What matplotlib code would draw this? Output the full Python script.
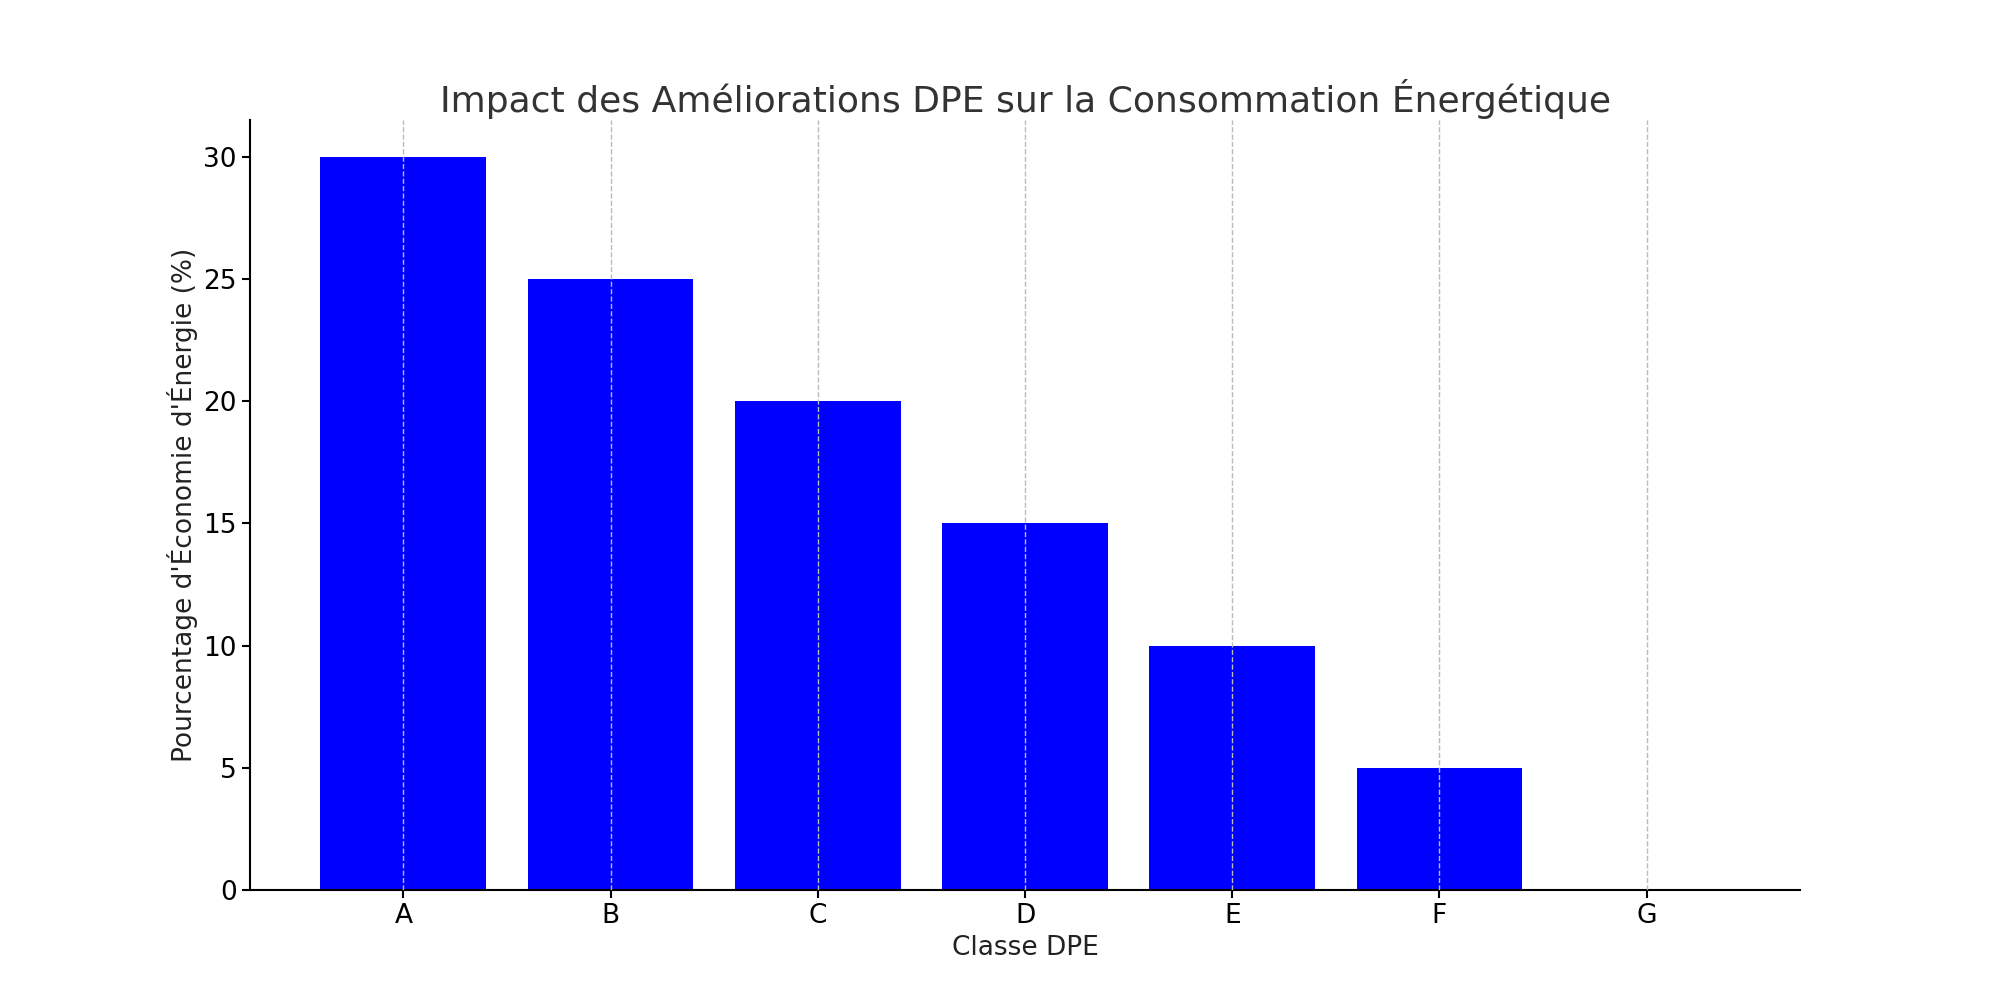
import matplotlib
matplotlib.use('Agg')
import matplotlib.pyplot as plt

classes = ['A', 'B', 'C', 'D', 'E', 'F', 'G']
savings = [30, 25, 20, 15, 10, 5, 0]

fig, ax = plt.subplots(figsize=(20, 10), dpi=100)
ax.bar(classes, savings, color='blue', width=0.8, zorder=2)
ax.set_title("Impact des Améliorations DPE sur la Consommation Énergétique",
             fontsize=26, color='#333333')
ax.set_xlabel('Classe DPE', fontsize=19, color='#222222')
ax.set_ylabel("Pourcentage d'Économie d'Énergie (%)", fontsize=19, color='#222222')
ax.tick_params(labelsize=19, length=6, width=1.5)
ax.grid(axis='x', linestyle='--', color='#bbbbbb', linewidth=1, zorder=3)
ax.set_axisbelow(False)
for s in ['top', 'right']:
  ax.spines[s].set_visible(False)
for s in ['left', 'bottom']:
  ax.spines[s].set_linewidth(1.5)
plt.savefig('out.png')
